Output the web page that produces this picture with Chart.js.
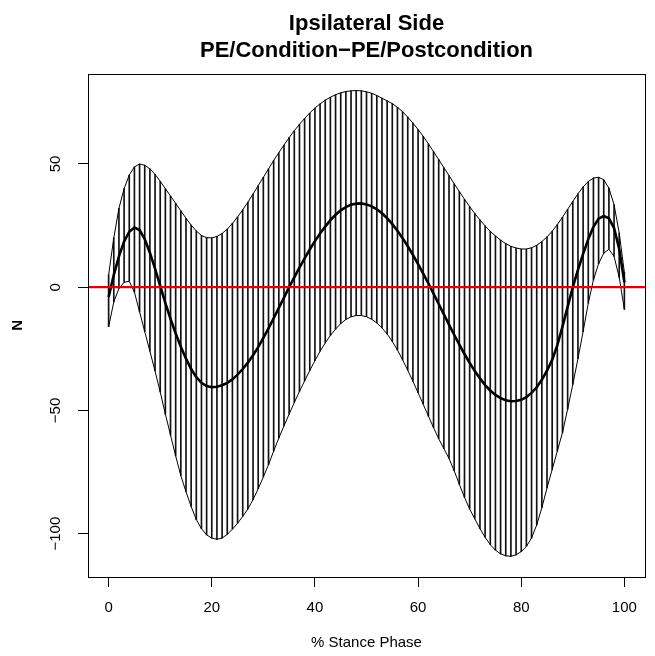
<!DOCTYPE html>
<html>
<head>
<meta charset="utf-8">
<script src="https://cdn.jsdelivr.net/npm/chart.js@4.4.1/dist/chart.umd.min.js"></script>
<style>
  html, body { margin: 0; padding: 0; background: #fff; }
</style>
</head>
<body>
<canvas id="bandChart" width="655" height="656"></canvas>
<script>
// Données : % de la phase d'appui, bornes de la bande et moyenne
const stance = [0,1,2,3,4,5,6,7,8,9,10,11,12,13,14,15,16,17,18,19,20,21,22,23,24,25,26,27,28,29,30,
  31,32,33,34,35,36,37,38,39,40,41,42,43,44,45,46,47,48,49,50,51,52,53,54,55,56,57,58,59,60,
  61,62,63,64,65,66,67,68,69,70,71,72,73,74,75,76,77,78,79,80,81,82,83,84,85,86,87,88,89,90,
  91,92,93,94,95,96,97,98,99,100];

const upper = [5,20,32,40,45.5,48.8,50,49.5,48,45.8,43,40,37,34,31,28,25.2,22.8,21,20.1,20,
  20.6,21.8,23.6,25.9,28.5,31.4,34.5,37.8,41.2,44.6,48,51.4,54.6,57.7,60.7,63.5,66.1,68.5,70.7,72.7,
  74.4,75.9,77.1,78.1,78.9,79.4,79.7,79.8,79.7,79.3,78.7,77.8,76.7,75.6,74.5,73,71.2,69,66.6,64,
  61.2,58.2,55,51.8,48.5,45.3,42,38.8,35.7,32.7,29.9,27.3,24.9,22.7,20.8,19.1,17.7,16.6,15.9,15.5,
  15.5,16,17,18.5,20.4,22.7,25.4,28.4,31.6,34.8,37.9,40.7,42.9,44.3,44.6,43.6,40.2,33.5,22,6];

const mean = [-4,5,12.5,18.5,22.5,24.2,23.2,19.5,14,7.5,0.5,-6.5,-12.8,-18.8,-24.2,-29,-33.2,-36.5,-38.8,-40.1,-40.6,
  -40.4,-39.8,-38.8,-37.4,-35.5,-33.2,-30.6,-27.6,-24.3,-20.6,-16.7,-12.6,-8.4,-4.2,0,4,7.9,11.7,15.3,18.7,
  21.8,24.6,27.2,29.4,31.2,32.5,33.5,33.9,34,33.6,32.8,31.6,30,28,25.6,22.9,19.9,16.6,13.1,9.4,
  5.5,1.5,-2.6,-6.8,-11,-15.2,-19.3,-23.3,-27.1,-30.7,-34,-37,-39.7,-41.9,-43.7,-45,-45.9,-46.3,-46.2,-45.7,
  -44.6,-42.9,-40.6,-37.6,-33.9,-29.5,-23.5,-16,-8,0,7,13.5,19.5,24.5,27.8,28.9,28,24,15.5,2];

const lower = [-16,-6,-0.5,2,2.4,-2,-10,-18,-26,-34,-42.5,-51.5,-60,-68.5,-76.5,-83,-89,-94.3,-98,-100.5,-101.8,
  -102.3,-101.8,-100.3,-98.2,-95.8,-93,-90,-86.2,-81.8,-77,-72,-66.5,-61.2,-56.3,-51.5,-46.8,-42.3,-38,-33.8,-29.8,
  -26,-22.6,-19.6,-17,-14.8,-13.1,-12,-11.5,-11.5,-12,-13,-14.5,-16.5,-19,-22,-25.5,-29.5,-33.7,-38.2,-42.8,
  -47.5,-52.3,-57,-61.5,-65.5,-69.5,-74.5,-80,-85.3,-90,-94,-98,-101.5,-104.5,-106.7,-108.2,-109,-109.2,-108.6,-107.3,
  -105.2,-101.8,-96.5,-89.5,-81.5,-74,-66.5,-59,-49.5,-39.5,-29,-18,-6.5,3,9.5,13.8,15.4,12.5,4,-9];

// Axes
const xTicks = [0, 20, 40, 60, 80, 100];
const yTicks = [-100, -50, 0, 50];
const xLimits = [-4, 104];
const yLimits = [-117.6, 86.6];
const zeroLevel = 0;

Chart.defaults.font.family = "'Liberation Sans', Arial, sans-serif";
Chart.defaults.color = '#000';

// Cadre autour de la zone du graphique
const boxPlugin = {
  id: 'box',
  afterDatasetsDraw(chart) {
    const a = chart.chartArea;
    const c = chart.ctx;
    c.save();
    c.strokeStyle = '#000';
    c.lineWidth = 1;
    c.strokeRect(Math.round(a.left) + 0.5, Math.round(a.top) + 0.5,
      Math.round(a.right - a.left), Math.round(a.bottom - a.top));
    c.restore();
  }
};

const ctx = document.getElementById('bandChart').getContext('2d');
const config = {
  type: 'line',
  data: {
    datasets: [
      {
        // hachures verticales de la bande
        type: 'bar',
        data: stance.map((x, i) => ({ x: x, y: [lower[i], upper[i]] })),
        backgroundColor: '#111',
        borderWidth: 0,
        barThickness: 1,
        grouped: false,
        order: 4
      },
      {
        data: stance.map((x, i) => ({ x: x, y: upper[i] })),
        borderColor: '#000', borderWidth: 1, pointRadius: 0, tension: 0, order: 3
      },
      {
        data: stance.map((x, i) => ({ x: x, y: lower[i] })),
        borderColor: '#000', borderWidth: 1, pointRadius: 0, tension: 0, order: 3
      },
      {
        data: stance.map((x, i) => ({ x: x, y: mean[i] })),
        borderColor: '#000', borderWidth: 2.6, pointRadius: 0, tension: 0, order: 2
      },
      {
        data: xLimits.map(x => ({ x: x, y: zeroLevel })),
        borderColor: '#dd0000', borderWidth: 2.2, pointRadius: 0, order: 1
      }
    ]
  },
  plugins: [boxPlugin],
  options: {
    responsive: false,
    animation: false,
    layout: { padding: { left: 0, right: 10, top: 0, bottom: 0 } },
    plugins: {
      legend: { display: false },
      tooltip: { enabled: false },
      title: {
        display: true,
        fullSize: false,
        text: ['Ipsilateral Side', 'PE/Condition\u2212PE/Postcondition'],
        font: { size: 22, weight: 'bold', lineHeight: 1.2 },
        color: '#000',
        padding: { top: 11, bottom: 10 }
      }
    },
    scales: {
      x: {
        type: 'linear',
        min: xLimits[0],
        max: xLimits[1],
        offset: false,
        afterBuildTicks: s => { s.ticks = xTicks.map(v => ({ value: v })); },
        afterFit: s => { s.height = 79; },
        ticks: { font: { size: 15 }, color: '#000', padding: 12, maxRotation: 0, autoSkip: false },
        grid: { display: true, drawOnChartArea: false, drawTicks: true, tickLength: 10, color: '#000', offset: false },
        border: { display: false },
        title: { display: true, text: '% Stance Phase', font: { size: 15 }, color: '#000', padding: { top: 0, bottom: 4 } }
      },
      y: {
        type: 'linear',
        min: yLimits[0],
        max: yLimits[1],
        afterBuildTicks: s => { s.ticks = yTicks.map(v => ({ value: v })); },
        afterFit: s => { s.width = 88; },
        ticks: {
          font: { size: 15 }, color: '#000', padding: 5, minRotation: 90, maxRotation: 90,
          crossAlign: 'center', autoSkip: false,
          callback: v => String(v).replace('-', '\u2212')
        },
        grid: { display: true, drawOnChartArea: false, drawTicks: true, tickLength: 10, color: '#000' },
        border: { display: false },
        title: { display: true, text: 'N', font: { size: 15, weight: 'bold' }, color: '#000', padding: { top: 9, bottom: 0 } }
      }
    }
  }
};
const bandChart = new Chart(ctx, config);
</script>
</body>
</html>
